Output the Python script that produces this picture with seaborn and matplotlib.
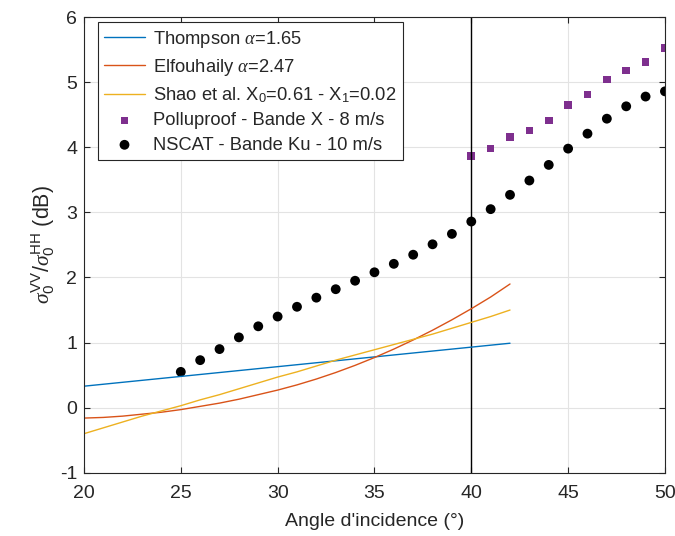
import matplotlib
matplotlib.use("Agg")
import matplotlib.pyplot as plt
import seaborn as sns
import numpy as np
import pandas as pd

# Data
angles_model = [20, 21, 22, 23, 24, 25, 26, 27, 28, 29, 30, 31,
                32, 33, 34, 35, 36, 37, 38, 39, 40, 41, 42]
thompson = [0.33, 0.36, 0.39, 0.42, 0.45, 0.48, 0.51, 0.54, 0.57, 0.60, 0.63, 0.66,
            0.69, 0.72, 0.75, 0.78, 0.81, 0.84, 0.87, 0.90, 0.93, 0.96, 0.99]
elfouhaily = [-0.16, -0.15, -0.13, -0.10, -0.07, -0.03, 0.02, 0.07, 0.13, 0.20, 0.27, 0.35,
              0.44, 0.54, 0.65, 0.77, 0.90, 1.04, 1.19, 1.35, 1.52, 1.70, 1.90]
shao = [-0.40, -0.31, -0.22, -0.13, -0.05, 0.03, 0.12, 0.20, 0.29, 0.38, 0.47, 0.55,
        0.64, 0.73, 0.81, 0.89, 0.97, 1.05, 1.13, 1.22, 1.31, 1.40, 1.50]

angles_pollu = [40, 41, 42, 43, 44, 45, 46, 47, 48, 49, 50]
polluproof = [3.87, 3.98, 4.16, 4.26, 4.41, 4.65, 4.81, 5.04, 5.18, 5.31, 5.53]

angles_nscat = [25, 26, 27, 28, 29, 30, 31, 32, 33, 34, 35, 36, 37,
                38, 39, 40, 41, 42, 43, 44, 45, 46, 47, 48, 49, 50]
nscat = [0.55, 0.73, 0.90, 1.08, 1.25, 1.40, 1.55, 1.69, 1.82, 1.95, 2.08, 2.21, 2.35,
         2.51, 2.67, 2.86, 3.05, 3.27, 3.49, 3.73, 3.98, 4.21, 4.44, 4.63, 4.78, 4.86]

labels = [r"Thompson $\alpha$=1.65",
          r"Elfouhaily $\alpha$=2.47",
          r"Shao et al. X$_0$=0.61 - X$_1$=0.02",
          "Polluproof - Bande X - 8 m/s",
          "NSCAT - Bande Ku - 10 m/s"]

models = pd.DataFrame({
    "angle": angles_model * 3,
    "value": thompson + elfouhaily + shao,
    "model": [labels[0]] * len(angles_model) + [labels[1]] * len(angles_model)
             + [labels[2]] * len(angles_model),
})

sns.set_theme(style="ticks")
plt.rcParams['font.family'] = ['Liberation Sans', 'DejaVu Sans']
plt.rcParams['mathtext.fontset'] = 'custom'
plt.rcParams['mathtext.rm'] = 'Liberation Sans'
plt.rcParams['mathtext.it'] = 'Liberation Serif:italic'
plt.rcParams['axes.unicode_minus'] = False

edge = '#262626'
fig = plt.figure(figsize=(6.75, 5.36), dpi=100)
ax = fig.add_axes([0.1244, 0.1180, 0.8607, 0.8500])

palette = ['#0072BD', '#D95319', '#EDB120']
sns.lineplot(data=models, x="angle", y="value", hue="model", palette=palette,
             linewidth=1.0, ax=ax, legend=True)
sns.scatterplot(x=angles_pollu, y=polluproof, marker='s', color='#7E2F8E', s=30,
                edgecolor='none', label=labels[3], ax=ax)
sns.scatterplot(x=angles_nscat, y=nscat, marker='o', color='black', s=50,
                edgecolor='none', label=labels[4], ax=ax)

ax.axvline(40, color='black', linewidth=1.0, zorder=1)

ax.set_xlim(20, 50)
ax.set_ylim(-1, 6)
ax.set_xticks([20, 25, 30, 35, 40, 45, 50])
ax.set_yticks([-1, 0, 1, 2, 3, 4, 5, 6])
ax.grid(True, color='#e3e3e3', linewidth=0.8)
ax.set_axisbelow(True)
for s in ax.spines.values():
    s.set_color(edge)
    s.set_linewidth(0.8)
ax.tick_params(direction='in', length=4, width=0.8, color=edge, labelsize=14,
               labelcolor='#262626', top=True, right=True, pad=5)
ax.tick_params(axis='x', pad=9)

ax.set_xlabel("Angle d'incidence (°)", fontsize=14, color='#262626', labelpad=8)
ax.set_ylabel(r"$\sigma_0^{\mathrm{VV}}/\sigma_0^{\mathrm{HH}}$ (dB)", fontsize=15.5,
              color='#262626', labelpad=2)

leg = ax.legend(loc='upper left', bbox_to_anchor=(0.024, 0.989), borderaxespad=0,
                fontsize=13.2, frameon=True, fancybox=False, framealpha=1,
                edgecolor=edge, handlelength=2.2, handletextpad=0.45,
                labelspacing=0.4, borderpad=0.35)
leg.get_frame().set_linewidth(0.8)

plt.savefig("out.png", dpi=100)
